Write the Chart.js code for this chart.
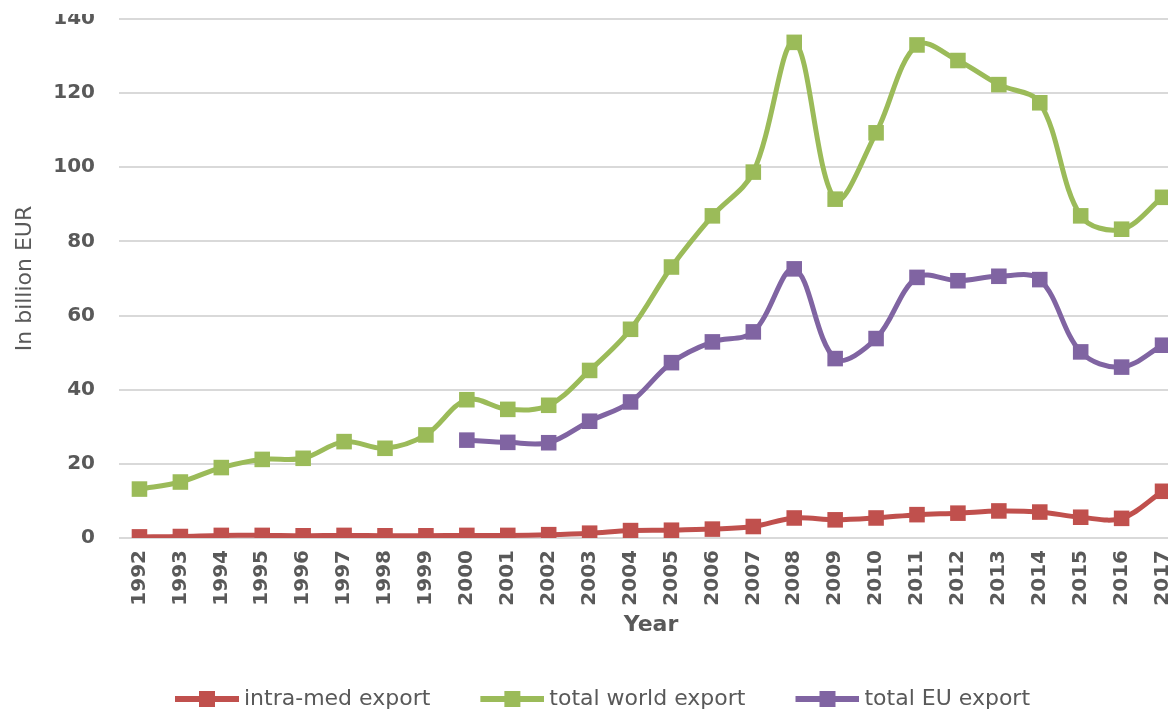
<!DOCTYPE html>
<html>
<head>
<meta charset="utf-8">
<script src="https://cdn.jsdelivr.net/npm/chart.js@4.4.1/dist/chart.umd.min.js"></script>
<style>
html, body { margin: 0; padding: 0; background: #fff; overflow: hidden; }
#wrap { position: absolute; left: 0; top: 0; width: 1168px; height: 711px; overflow: hidden; }
#mask { position: absolute; left: 0; top: 0; width: 1168px; height: 14px; background: #fff; }
</style>
</head>
<body>
<div id="wrap"><canvas id="exportChart" width="1194" height="720"></canvas></div>
<div id="mask"></div>
<script>
// -------------------------    Data    -------------------------

var years = ['1992', '1993', '1994', '1995', '1996', '1997', '1998', '1999', '2000', '2001', '2002', '2003', '2004',
    '2005', '2006', '2007', '2008', '2009', '2010', '2011', '2012', '2013', '2014', '2015', '2016', '2017'];

var intraMed = [0.3, 0.4, 0.7, 0.7, 0.6, 0.7, 0.6, 0.6, 0.7, 0.7, 0.9, 1.3, 2.0,
    2.1, 2.4, 3.1, 5.4, 4.9, 5.4, 6.3, 6.7, 7.3, 7.0, 5.6, 5.3, 12.6];

var worldExport = [13.2, 15.1, 19.0, 21.2, 21.5, 26.0, 24.2, 27.8, 37.3, 34.7, 35.8, 45.2, 56.3,
    73.1, 86.9, 98.7, 133.7, 91.4, 109.3, 133.0, 128.8, 122.3, 117.4, 86.9, 83.3, 91.9];

var euExport = [null, null, null, null, null, null, null, null, 26.4, 25.8, 25.7, 31.5, 36.7,
    47.3, 52.9, 55.6, 72.6, 48.4, 53.8, 70.3, 69.4, 70.6, 69.7, 50.2, 46.1, 52.0];

var yTicks = [0, 20, 40, 60, 80, 100, 120, 140];

var seriesNames = ['intra-med export', 'total world export', 'total EU export'];
var seriesColors = ['#C0504D', '#9BBB59', '#8064A2'];

var textColor = '#595959';
var tickFont = { family: 'DejaVu Sans', size: 20, weight: 'bold' };


// -------------------------    helperfunctions    -------------------------

// line + square swatch for the legend
function legendSwatch(color) {
    var c = document.createElement('canvas');
    c.width = 90;
    c.height = 18;
    var g = c.getContext('2d');
    g.fillStyle = color;
    g.fillRect(26, 6, 64, 6);
    g.fillRect(50, 1, 16, 16);
    return c;
}

function makeDataset(i, values) {
    return {
        label: seriesNames[i],
        data: values,
        borderColor: seriesColors[i],
        backgroundColor: seriesColors[i],
        borderWidth: 5,
        pointStyle: 'rect',
        pointRadius: 11,
        pointBorderWidth: 0,
        pointHoverRadius: 11,
        fill: false,
        tension: 0.35,
    };
}


// -------------------------    Chart Setup    -------------------------

var ctx = document.getElementById('exportChart').getContext('2d');
var exportChart = new Chart(ctx, {
    type: 'line',
    data: {
        labels: years,
        datasets: [
            makeDataset(0, intraMed),
            makeDataset(1, worldExport),
            makeDataset(2, euExport),
        ],
    },
    options: {
        responsive: false,
        animation: false,
        devicePixelRatio: 1,
        layout: {
            padding: { top: 19, right: 9, left: 0, bottom: 0 }
        },
        plugins: {
            tooltip: { enabled: false },
            legend: {
                position: 'bottom',
                labels: {
                    usePointStyle: true,
                    pointStyleWidth: 78,
                    boxHeight: 20,
                    padding: 30,
                    color: textColor,
                    font: { family: 'DejaVu Sans', size: 22 },
                    generateLabels: function (chart) {
                        return chart.data.datasets.map(function (ds, i) {
                            return {
                                text: ds.label,
                                pointStyle: legendSwatch(seriesColors[i]),
                                fillStyle: seriesColors[i],
                                strokeStyle: seriesColors[i],
                                lineWidth: 0,
                                fontColor: textColor,
                                hidden: false,
                                datasetIndex: i,
                            };
                        });
                    }
                }
            }
        },
        scales: {
            x: {
                offset: true,
                grid: {
                    drawOnChartArea: false,
                    color: 'rgba(0,0,0,0)',
                    tickColor: 'rgba(0,0,0,0)',
                    tickLength: 12,
                },
                border: { display: false },
                ticks: {
                    autoSkip: false,
                    minRotation: 90,
                    maxRotation: 90,
                    padding: 0,
                    color: textColor,
                    font: tickFont,
                },
                title: {
                    display: true,
                    text: 'Year',
                    color: textColor,
                    font: { family: 'DejaVu Sans', size: 22, weight: 'bold' },
                    padding: { top: 0, bottom: 20 },
                },
                afterFit: function (scale) { scale.height = 120; }
            },
            y: {
                min: 0,
                max: 140,
                afterBuildTicks: function (scale) {
                    scale.ticks = yTicks.map(function (v) { return { value: v }; });
                },
                grid: {
                    color: '#D9D9D9',
                    lineWidth: 2,
                    tickColor: 'rgba(0,0,0,0)',
                    tickLength: 24,
                },
                border: { display: false },
                ticks: {
                    padding: 0,
                    color: textColor,
                    font: tickFont,
                },
                title: {
                    display: true,
                    text: 'In billion EUR',
                    color: textColor,
                    font: { family: 'DejaVu Sans', size: 22 },
                    padding: { top: 12, bottom: 0 },
                },
                afterFit: function (scale) { scale.width = 119; }
            }
        }
    }
});
</script>
</body>
</html>
